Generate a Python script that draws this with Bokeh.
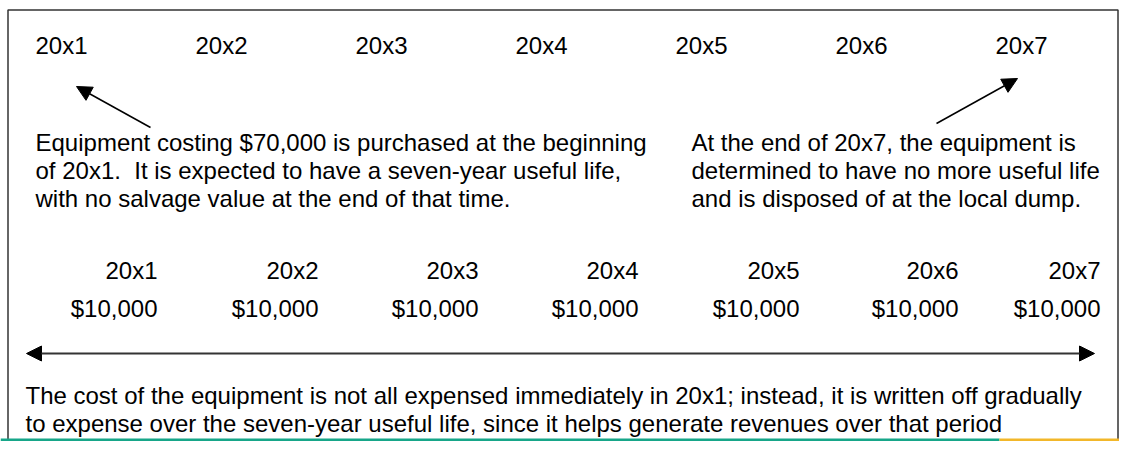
from bokeh.plotting import figure
from bokeh.models import ColumnDataSource, Range1d, Arrow, NormalHead
from bokeh.core.properties import value
from bokeh.embed import file_html
from bokeh.resources import INLINE

# ---- data ----
years = ["20x1", "20x2", "20x3", "20x4", "20x5", "20x6", "20x7"]
expense = [10000, 10000, 10000, 10000, 10000, 10000, 10000]
purchase_note = [
    "Equipment costing $70,000 is purchased at the beginning",
    "of 20x1.\u00a0 It is expected to have a seven-year useful life,",
    "with no salvage value at the end of that time.",
]
disposal_note = [
    "At the end of 20x7, the equipment is",
    "determined to have no more useful life",
    "and is disposed of at the local dump.",
]
matching_note = [
    "The cost of the equipment is not all expensed immediately in 20x1; instead, it is written off gradually",
    "to expense over the seven-year useful life, since it helps generate revenues over that period",
    "(matching principle)",
]

# ---- layout (picture pixel coordinates) ----
W, H = 1119, 441
top_x = [35 + 160 * i for i in range(len(years))]
row_right = [157, 318, 478, 638, 799, 958, 1100]
FONT = value("Liberation Sans")
FS = value("24px")
LH = 28

p = figure(width=W, height=H, output_backend="svg", toolbar_location=None,
           x_range=Range1d(0, W), y_range=Range1d(H, 0),
           min_border=0, background_fill_color="white", border_fill_color="white")
p.axis.visible = False
p.grid.visible = False
p.outline_line_color = None

# frame of the box
p.line([7.5, 7.5, 1117.5, 1117.5], [H, 9.5, 9.5, H], line_color="#333333", line_width=1.5)

def txt(xs, ys, texts, align="left"):
    src = ColumnDataSource(dict(x=xs, y=ys, t=texts))
    p.text(x="x", y="y", text="t", source=src, text_font=FONT, text_font_size=FS,
           text_color="#000000", text_align=align, text_baseline="alphabetic")

# top row of years
txt(top_x, [45] * len(years), years)

# notes
txt([35] * len(purchase_note), [142 + LH * i for i in range(len(purchase_note))], purchase_note)
txt([691] * len(disposal_note), [142 + LH * i for i in range(len(disposal_note))], disposal_note)

# second row: years and straight-line expense
txt(row_right, [270] * len(years), years, align="right")
txt(row_right, [308] * len(expense), ["${:,.0f}".format(v) for v in expense], align="right")

# bottom note
txt([25] * len(matching_note), [395 + LH * i for i in range(len(matching_note))], matching_note)

# arrows
head = dict(size=15, fill_color="black", line_color="black")
p.add_layout(Arrow(end=NormalHead(**head),
                   x_start=150, y_start=127, x_end=76, y_end=86,
                   line_color="black", line_width=1.5))
p.add_layout(Arrow(end=NormalHead(**head),
                   x_start=936, y_start=123, x_end=1017, y_end=78,
                   line_color="black", line_width=1.5))
p.add_layout(Arrow(start=NormalHead(**head), end=NormalHead(**head),
                   x_start=26, y_start=353, x_end=1094, y_end=353,
                   line_color="#333333", line_width=2))

# coloured strip at the bottom
p.quad(left=[0, 999], right=[999, W], top=[H - 3, H - 3], bottom=[H, H],
       fill_color=["#17a689", "#f2b72a"], line_color=None)

open("out.html", "w").write(file_html(p, INLINE))
